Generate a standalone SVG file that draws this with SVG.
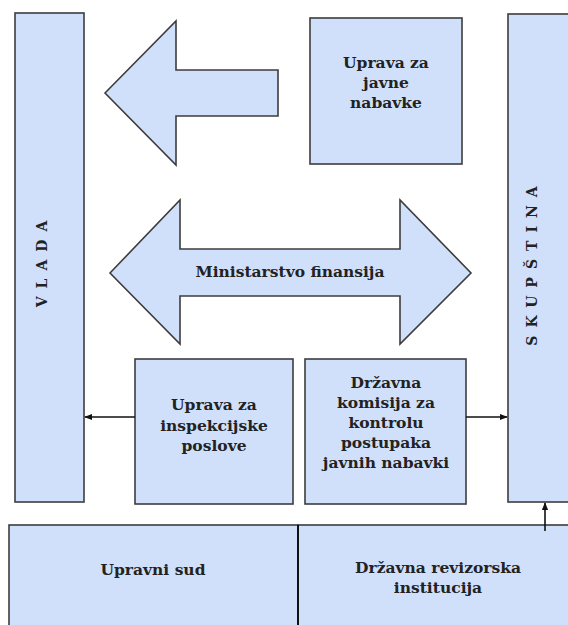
<svg xmlns="http://www.w3.org/2000/svg" width="568" height="625" viewBox="0 0 568 625">
<defs>
<style>
.box{fill:#d0e0fa;stroke:#3c3c3c;stroke-width:1.6}
.t{font-family:"DejaVu Serif","Liberation Serif",serif;font-weight:bold;font-size:15.5px;fill:#222;text-anchor:middle}
.v{font-family:"DejaVu Serif","Liberation Serif",serif;font-weight:bold;font-size:14px;fill:#222;text-anchor:middle;letter-spacing:8px}
.con{stroke:#111;stroke-width:1.6;fill:none}
</style>
<marker id="ah" viewBox="0 0 10 10" refX="9" refY="5" markerWidth="5" markerHeight="5" orient="auto-start-reverse">
<path d="M0,1 L10,5 L0,9 z" fill="#111"/>
</marker>
</defs>
<rect width="568" height="625" fill="#ffffff"/>
<g id="vlada">
<rect class="box" x="15" y="13" width="69" height="489"/>
<text class="v" transform="translate(47,260) rotate(-90)">VLADA</text>
</g>
<g id="skupstina">
<rect class="box" x="508" y="14" width="80" height="488"/>
<text class="v" transform="translate(537,262) rotate(-90)">SKUPŠTINA</text>
</g>
<g id="arrow-left">
<polygon class="box" points="105,93 176,21 176,70 278,70 278,116 176,116 176,165"/>
</g>
<g id="uprava-javne">
<rect class="box" x="310" y="18" width="152" height="146"/>
<text class="t" x="386" y="68">Uprava za</text>
<text class="t" x="386" y="88">javne</text>
<text class="t" x="386" y="108">nabavke</text>
</g>
<g id="ministarstvo">
<polygon class="box" points="110,273 180,200 180,249 400,249 400,200 471,273 400,344 400,296 180,296 180,344"/>
<text class="t" x="290" y="277">Ministarstvo finansija</text>
</g>
<g id="uprava-inspekcijske">
<rect class="box" x="135" y="359" width="158" height="145"/>
<text class="t" x="214" y="410">Uprava za</text>
<text class="t" x="214" y="431">inspekcijske</text>
<text class="t" x="214" y="451">poslove</text>
</g>
<g id="komisija">
<rect class="box" x="305" y="359" width="161" height="145"/>
<text class="t" x="386" y="388">Državna</text>
<text class="t" x="386" y="408">komisija za</text>
<text class="t" x="386" y="428">kontrolu</text>
<text class="t" x="386" y="448">postupaka</text>
<text class="t" x="386" y="468">javnih nabavki</text>
</g>
<g id="upravni-sud">
<rect class="box" x="9" y="525" width="289" height="120"/>
<text class="t" x="153" y="575">Upravni sud</text>
</g>
<g id="revizorska">
<rect class="box" x="298" y="525" width="290" height="120"/>
<line x1="298" y1="525" x2="298" y2="625" stroke="#111" stroke-width="2"/>
<text class="t" x="438" y="573">Državna revizorska</text>
<text class="t" x="438" y="593">institucija</text>
</g>
<g id="connectors">
<line class="con" x1="135" y1="417" x2="85" y2="417" marker-end="url(#ah)"/>
<line class="con" x1="466" y1="417" x2="507" y2="417" marker-end="url(#ah)"/>
<line class="con" x1="545" y1="531" x2="545" y2="503" marker-end="url(#ah)"/>
</g>
</svg>
